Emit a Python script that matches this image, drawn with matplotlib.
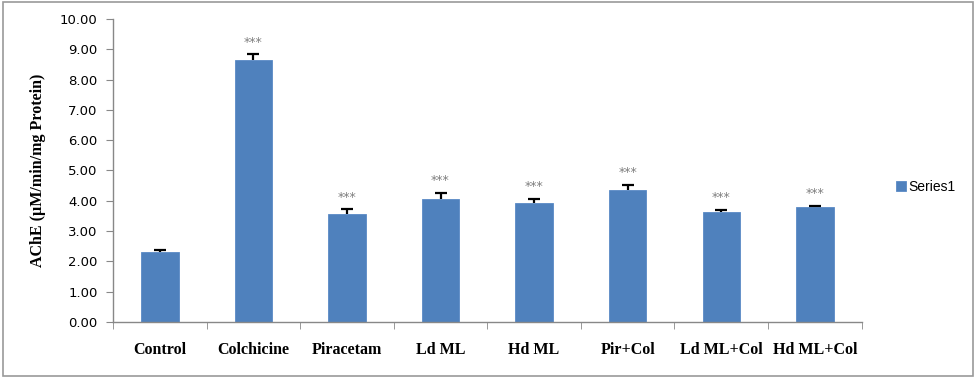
import matplotlib
matplotlib.use("Agg")
import matplotlib.pyplot as plt
from matplotlib.patches import Rectangle
import numpy as np

categories = ["Control", "Colchicine", "Piracetam", "Ld ML", "Hd ML", "Pir+Col", "Ld ML+Col", "Hd ML+Col"]
values = [2.30, 8.65, 3.56, 4.07, 3.94, 4.37, 3.64, 3.78]
errors = [0.07, 0.18, 0.16, 0.20, 0.12, 0.15, 0.07, 0.06]
stars = ["", "***", "***", "***", "***", "***", "***", "***"]
yticks = [0, 1, 2, 3, 4, 5, 6, 7, 8, 9, 10]

fig = plt.figure(figsize=(9.76, 3.78), dpi=100)
ax = fig.add_axes([0.1158, 0.148, 0.767, 0.802])

x = np.arange(len(categories))
vals = np.array(values)
errs = np.array(errors)
bar_color = "#4F81BD"
bars = ax.bar(x, vals, width=0.4, color=bar_color, edgecolor="#5A8AC6", linewidth=0.6,
              label="Series1", zorder=2)
ax.vlines(x, vals, vals + errs, colors="black", linewidth=1.6, zorder=3)
ax.plot(x, vals + errs, linestyle="none", marker="_", markersize=9, markeredgewidth=1.6,
        color="black", zorder=3)
for xi, v, e, s in zip(x, vals, errs, stars):
    if s:
        ax.annotate(s, (xi, v + e), xytext=(0, 4), textcoords="offset points",
                    ha="center", va="bottom", fontsize=9, color="#7f7f7f")

ax.set_xlim(-0.5, len(categories) - 0.5)
ax.set_ylim(0, 10)
ax.set_yticks(yticks)
ax.set_yticklabels([f"{t:.2f}" for t in yticks], fontsize=9.5, family="DejaVu Sans")
ax.set_xticks(x)
ax.set_xticklabels(categories, fontsize=11.5, fontweight="bold", family="Liberation Serif")
ax.set_xticks(np.arange(-0.5, len(categories)), minor=True)
ax.tick_params(axis="x", which="major", length=0, pad=14)
ax.tick_params(axis="x", which="minor", length=5, color="#888888", direction="out")
ax.tick_params(axis="y", length=5, color="#888888", direction="out", pad=6)
for sp in ["top", "right"]:
    ax.spines[sp].set_visible(False)
for sp in ["left", "bottom"]:
    ax.spines[sp].set_color("#888888")
    ax.spines[sp].set_linewidth(1.0)

ax.set_ylabel("AChE (µM/min/mg Protein)", fontsize=11.5, fontweight="bold",
              family="Liberation Serif", labelpad=10)

fig.legend(handles=[bars], labels=["Series1"], loc="center left",
           bbox_to_anchor=(0.905, 0.505), frameon=False, handlelength=0.7,
           handleheight=0.7, handletextpad=0.2, prop={"family": "Liberation Sans", "size": 10})

fig.patches.append(Rectangle((0.003, 0.005), 0.994, 0.99, transform=fig.transFigure,
                             fill=False, edgecolor="#9a9a9a", linewidth=1.2))

fig.savefig("out.png", dpi=100, facecolor="white")
